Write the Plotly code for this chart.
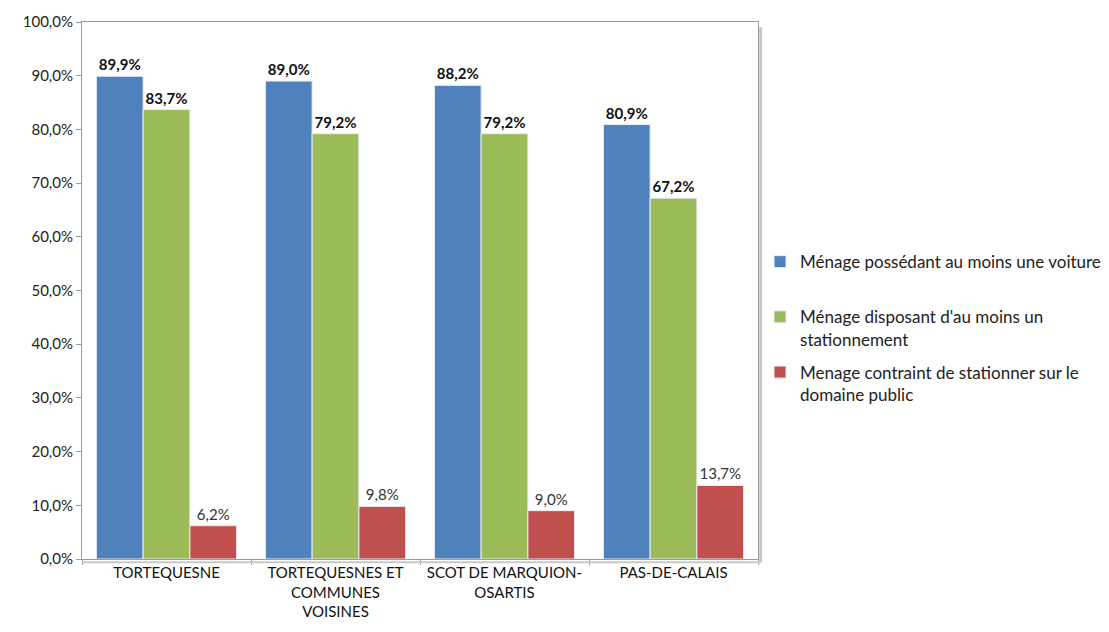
import plotly.graph_objects as go

# Categories and values (in %)
categories = ["TORTEQUESNE", "TORTEQUESNES ET<br>COMMUNES<br>VOISINES",
              "SCOT DE MARQUION-<br>OSARTIS", "PAS-DE-CALAIS"]
voiture = [89.9, 89.0, 88.2, 80.9]
stationnement = [83.7, 79.2, 79.2, 67.2]
domaine_public = [6.2, 9.8, 9.0, 13.7]

names = ["Ménage possédant au moins une voiture<br> ",
         "Ménage disposant d'au moins un<br>stationnement",
         "Menage contraint de stationner sur le<br>domaine public"]
colors = ["#4F81BD", "#9BBB59", "#C0504D"]
series = [voiture, stationnement, domaine_public]
label_fonts = [
    dict(family="Lato", size=15, color="#111111", weight="bold"),
    dict(family="Lato", size=15, color="#111111", weight="bold"),
    dict(family="Lato", size=15, color="#333333"),
]

fig = go.Figure()
for i, (vals, name, col) in enumerate(zip(series, names, colors)):
    fig.add_trace(go.Bar(
        x=categories, y=vals, name=name,
        marker=dict(color=col, line=dict(color="#E8EEF6", width=1)),
        texttemplate="%{y:.1f}%", textposition="outside",
        textfont=label_fonts[i], cliponaxis=False,
        legendgroup=str(i),
    ))

fig.update_layout(
    width=1109, height=632,
    margin=dict(l=74, r=359, t=14, b=81, autoexpand=False),
    paper_bgcolor="white", plot_bgcolor="white",
    barmode="group", bargap=0.17, bargroupgap=0,
    separators=", ",
    font=dict(family="Lato", size=15, color="#222222"),
    showlegend=True,
    legend=dict(x=1.003, y=0.43, xanchor="left", yanchor="middle",
                font=dict(size=17, color="#222222"), valign="top",
                tracegroupgap=8, itemwidth=30, bgcolor="rgba(0,0,0,0)"),
    xaxis=dict(showline=True, linecolor="#9a9a9a", mirror=True,
               ticks="outside", tickson="boundaries", ticklen=5,
               tickcolor="#9a9a9a", tickfont=dict(size=15, color="#111111"),
               automargin=False),
    yaxis=dict(range=[0, 100], dtick=10, tickformat=".1f", ticksuffix="%",
               showgrid=False, showline=True, linecolor="#9a9a9a", mirror=True,
               ticks="outside", ticklen=5, tickcolor="#9a9a9a",
               tickfont=dict(size=15), zeroline=False, automargin=False),
)

# light shadow on right and bottom of plot frame
fig.add_shape(type="line", xref="paper", yref="paper", x0=1.004, x1=1.004,
              y0=-0.006, y1=0.99, line=dict(color="#c8c8c8", width=3))
fig.add_shape(type="line", xref="paper", yref="paper", x0=0.0, x1=1.004,
              y0=-0.006, y1=-0.006, line=dict(color="#c8c8c8", width=2))

fig.write_html("out.html")
